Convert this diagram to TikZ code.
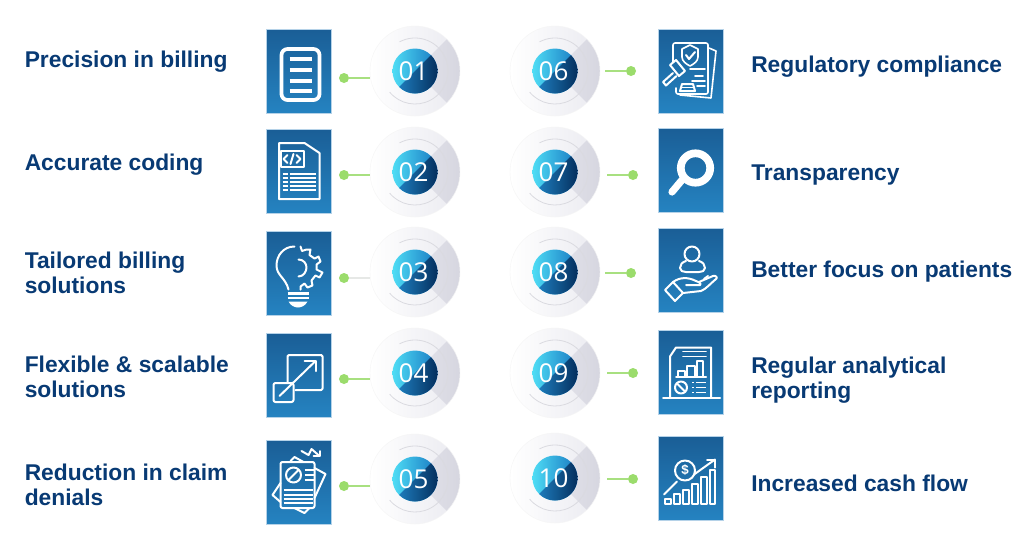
\documentclass[tikz,border=0pt]{standalone}
\usepackage{fontspec}
\setmainfont{Liberation Sans}
\newfontfamily\numfont{Open Sans}
\definecolor{navytext}{HTML}{083A74}
\definecolor{boxtop}{HTML}{1A5E96}
\definecolor{boxbot}{HTML}{2583C1}
\definecolor{boxedge}{HTML}{B5D2E8}
\definecolor{linkgreen}{HTML}{A8E080}
\definecolor{dotgreen}{HTML}{9BDC6C}
\definecolor{linkpale}{HTML}{E6E8E6}
\definecolor{discbase}{HTML}{EAEAF0}
\definecolor{wedgelow}{HTML}{F3F3F6}
\definecolor{wedgehigh}{HTML}{D6D6E0}
\definecolor{ringgrey}{HTML}{DADAE0}
\definecolor{innercyan}{HTML}{4FDDF5}
\definecolor{innerblue}{HTML}{1878C2}
\definecolor{innermid}{HTML}{2288CA}
\definecolor{innernavy}{HTML}{042F5E}
\tikzset{
  iconbox/.style={rectangle,minimum width=48.75pt,minimum height=63pt,inner sep=0pt,outer sep=0pt,
     top color=boxtop,bottom color=boxbot,draw=boxedge,line width=0.4pt},
  discnode/.style={circle,minimum size=67.5pt,inner sep=0pt,outer sep=0pt},
  numtext/.style={text=white,font=\numfont\fontsize{19.5}{20}\selectfont,inner sep=0pt},
  labeltext/.style={text=navytext,font=\bfseries\fontsize{17.1}{18.4}\selectfont,align=left,anchor=base west,inner sep=0pt},
  dotnode/.style={circle,fill=dotgreen,minimum size=7.5pt,inner sep=0pt},
  linkline/.style={draw=linkgreen,line width=1.2pt},
  paleline/.style={draw=linkpale,line width=1pt},
  iconline/.style={draw=white,line width=1.5pt,line cap=round,line join=round},
  iconthin/.style={draw=white,line width=1.2pt,line cap=round,line join=round},
  iconthick/.style={draw=white,line width=2.8pt,line cap=round,line join=round},
}
\newcommand{\discdraw}[4]{%
  \begin{scope}[shift={(#2,#3)}]
    \begin{scope}
      \clip (0,0) circle[radius=45];
      \shade[left color=white,right color=discbase] (-45,-45) rectangle (45,45);
      \begin{scope}
        \clip (0,0) -- (60,-60) -- (60,60) -- cycle;
        \shade[shading angle=135,left color=wedgelow,right color=wedgehigh] (-45,-45) rectangle (45,45);
      \end{scope}
    \end{scope}
    \draw[black!4!white,line width=0.3pt] (0,0) circle[radius=45];
    \draw[ringgrey,line width=0.6pt] (-118:33) arc[start angle=-118,end angle=140,radius=33];
    \begin{scope}
      \clip (0,0) circle[radius=22.5];
      \shade[left color=innercyan,right color=innerblue] (-22.5,-22.5) rectangle (22.5,22.5);
      \begin{scope}
        \clip (-30,30) -- (30,-30) -- (30,30) -- cycle;
        \shade[left color=innermid,right color=innernavy] (-22.5,-22.5) rectangle (22.5,22.5);
      \end{scope}
    \end{scope}
  \end{scope}
  \node[discnode] (#1) at (#2,#3) {};
  \node[numtext] (#1n) at (#2-1.5,#3+0.5) {#4};
}
\begin{document}
\begin{tikzpicture}[x=0.75pt,y=-0.75pt]
\useasboundingbox (0,0) rectangle (1024,547);
\fill[white] (0,0) rectangle (1024,547);

% boxes
\node[iconbox] (b1) at (299,71) {};
\node[iconbox] (b2) at (299,171) {};
\node[iconbox] (b3) at (299,273.5) {};
\node[iconbox] (b4) at (299,375) {};
\node[iconbox] (b5) at (299,482) {};
\node[iconbox] (b6) at (690.5,71) {};
\node[iconbox] (b7) at (690.5,170) {};
\node[iconbox] (b8) at (690.5,270) {};
\node[iconbox] (b9) at (690.5,372.5) {};
\node[iconbox] (b10) at (690.5,478.5) {};

% discs
\discdraw{d1}{415}{71}{01}
\discdraw{d2}{415}{172}{02}
\discdraw{d3}{415}{272}{03}
\discdraw{d4}{415}{373}{04}
\discdraw{d5}{415}{479}{05}
\discdraw{d6}{555}{71}{06}
\discdraw{d7}{555}{172}{07}
\discdraw{d8}{555}{272}{08}
\discdraw{d9}{555}{373}{09}
\discdraw{d10}{555}{478}{10}

% dots and connectors
\node[dotnode] (p1) at (344,78) {};
\node[dotnode] (p2) at (344,175) {};
\node[dotnode] (p3) at (344,278) {};
\node[dotnode] (p4) at (344,379) {};
\node[dotnode] (p5) at (344,486) {};
\node[dotnode] (p6) at (631,71) {};
\node[dotnode] (p7) at (633,175) {};
\node[dotnode] (p8) at (631,273) {};
\node[dotnode] (p9) at (633,373) {};
\node[dotnode] (p10) at (633,479) {};
\coordinate (s6) at (605,71);
\coordinate (s7) at (607,175);
\coordinate (s8) at (605,273);
\coordinate (s9) at (607,373);
\coordinate (s10) at (607,479);
\draw[linkline] (p1) -- (p1 -| d1.west);
\draw[linkline] (p2) -- (p2 -| d2.west);
\draw[paleline] (p3) -- (p3 -| d3.west);
\draw[linkline] (p4) -- (p4 -| d4.west);
\draw[linkline] (p5) -- (p5 -| d5.west);
\draw[linkline] (p6) -- (s6);
\draw[linkline] (p7) -- (s7);
\draw[linkline] (p8) -- (s8);
\draw[linkline] (p9) -- (s9);
\draw[linkline] (p10) -- (s10);

% labels (base of the last line is placed)
\node[labeltext] (t1) at (24.5,67) {Precision in billing};
\node[labeltext] (t2) at (24.5,170.5) {Accurate coding};
\node[labeltext] (t3) at (24.5,293) {Tailored billing\\solutions};
\node[labeltext] (t4) at (24.5,397) {Flexible \& scalable\\solutions};
\node[labeltext] (t5) at (24.5,505) {Reduction in claim\\denials};
\node[labeltext] (t6) at (751,72) {Regulatory compliance};
\node[labeltext] (t7) at (751,180) {Transparency};
\node[labeltext] (t8) at (751,277) {Better focus on patients};
\node[labeltext] (t9) at (751,398) {Regular analytical\\reporting};
\node[labeltext] (t10) at (751,491) {Increased cash flow};

% icon 1: document
\begin{scope}[shift={(b1.north west)}]
  \draw[iconthick,rounded corners=4.5pt] (15,20) rectangle (53,71);
  \foreach \yy in {30,41,52,62} \draw[iconthick,line width=2.5pt,line cap=butt] (23,\yy) -- (45,\yy);
\end{scope}

% icon 2: code file
\begin{scope}[shift={(b2.north west)}]
  \draw[iconline] (12.5,14) -- (38,14) -- (53,24) -- (53,70) -- (12.5,70) -- cycle;
  \draw[iconline] (14,22) rectangle (37,38);
  \draw[iconline] (21,26) -- (17,30) -- (21,34);
  \draw[iconline] (27,25) -- (24,35);
  \draw[iconline] (30,26) -- (34,30) -- (30,34);
  \foreach \yy in {45,49,53,57,61} {
    \draw[iconthin,line cap=butt] (16,\yy) -- (21,\yy);
    \draw[iconthin,line cap=butt] (23,\yy) -- (49,\yy);
  }
\end{scope}

% icon 3: bulb and gear
\begin{scope}[shift={(b3.north west)}]
  \draw[iconline] (28,15) .. controls (17,15) and (10,24) .. (10,34) .. controls (10,44) and (19,46) .. (22,58);
  \draw[iconline] (34,15) -- (35.5,19.5) -- (40,18) -- (44,18) -- (43,23.5) -- (48,27) -- (52,25) -- (54,30) -- (50,33) -- (50,38) -- (56,41) -- (53,46) -- (49,44) -- (45,49) -- (46,54) -- (41,56) -- (38,52) -- (34,55) -- (34,58);
  \draw[iconline] (32,28) .. controls (37,28) and (40,32) .. (40,36) .. controls (40,40) and (37,45) .. (32,45);
  \draw[iconthick,line width=1.8pt,line cap=butt] (21,62) -- (42,62);
  \draw[iconthick,line width=1.8pt,line cap=butt] (21,66.5) -- (42,66.5);
  \fill[white] (22,70) -- (41,70) .. controls (39,74) and (35,76) .. (31.5,76) .. controls (28,76) and (24,74) .. (22,70) -- cycle;
\end{scope}

% icon 4: resize
\begin{scope}[shift={(b4.north west)}]
  \draw[iconline,rounded corners=1pt] (21,49) -- (21,22) -- (56,22) -- (56,57) -- (29,57);
  \draw[iconline,rounded corners=1.5pt] (7,50) rectangle (27,69);
  \draw[iconline] (13,63) -- (49,28);
  \draw[iconline] (38,28) -- (49,28) -- (49,38);
\end{scope}

% icon 5: denied document
\begin{scope}[shift={(b5.north west)}]
  \draw[iconline] (35,11) -- (42,15) -- (45,9) -- (53,16);
  \draw[iconline] (47,16) -- (53,16) -- (53,11);
  \draw[iconline] (24,21) -- (28,17) -- (37,22);
  \draw[iconline] (48,28) -- (59,34) -- (48,58);
  \draw[iconline] (14,43) -- (6,55) -- (14,62);
  \draw[iconline] (28,68) -- (38,73) -- (43,68);
  \draw[iconline,rounded corners=1.5pt] (14,22) rectangle (48,68);
  \draw[iconline] (27,35) circle[radius=7.5];
  \draw[iconline] (22,40) -- (32,30);
  \foreach \yy in {30,35,40} \draw[iconthin,line cap=butt] (38,\yy) -- (47,\yy);
  \foreach \yy in {50,55,59,63} \draw[iconthin,line cap=butt] (17,\yy) -- (46,\yy);
\end{scope}

% icon 6: compliance
\begin{scope}[shift={(b6.north west)}]
  \draw[iconthin] (51,19) -- (58,22) -- (53,69) -- (22,66);
  \draw[iconthin,rounded corners=1.5pt] (15,33) -- (15,14) -- (50,14) -- (50,65) -- (18,65) -- (18,59);
  \draw[iconthin] (24,20) -- (32,16) -- (40,20) -- (40,28) .. controls (40,32) and (36,35) .. (32,37) .. controls (28,35) and (24,32) .. (24,28) -- cycle;
  \draw[iconline] (28,26) -- (31,30) -- (37,23);
  \draw[iconthin] (32,40) -- (47,40);
  \draw[iconthin] (37,47) -- (45,47);
  \draw[iconthin] (34,52) -- (47,52);
  \draw[iconthin] (39,57) -- (47,57);
  \draw[iconline] (12,36) -- (18,31) -- (27,42) -- (21,47) -- cycle;
  \draw[iconline] (15,44) -- (5,53) -- (8,56.5) -- (18.5,47);
  \draw[iconline] (22,62) -- (24,55) -- (35,55) -- (37,62) -- cycle;
  \draw[iconthin] (23,58.5) -- (36,58.5);
\end{scope}

% icon 7: magnifier
\begin{scope}[shift={(b7.north west)}]
  \draw[draw=white,line width=5.8pt] (37.5,40) circle[radius=14.7];
  \draw[draw=white,line width=5.4pt,line cap=round] (24,52) -- (14,64);
\end{scope}

% icon 8: person in hand
\begin{scope}[shift={(b8.north west)}]
  \draw[iconline] (34,26) circle[radius=7.5];
  \draw[iconline] (28,33) .. controls (24,34) and (22,37) .. (22,40) .. controls (22,43) and (25,44) .. (28,44) -- (41,44) .. controls (44,44) and (47,43) .. (47,40) .. controls (47,37) and (45,34) .. (41,33);
  \draw[iconline] (7,62) -- (15,54) -- (25,65) -- (17,73) -- cycle;
  \draw[iconline] (15,54) .. controls (22,49) and (30,49) .. (38,53) .. controls (41,54) and (44,56) .. (42,57) -- (28,57);
  \draw[iconline] (41,54) -- (55,48) .. controls (58,47) and (60,50) .. (58,51) .. controls (52,56) and (48,61) .. (43,63) -- (25,65);
  \draw[iconline] (46,51) -- (50,48);
\end{scope}

% icon 9: report
\begin{scope}[shift={(b9.north west)}]
  \draw[iconline] (12,67) -- (12,26) -- (18,17) -- (53,17) -- (53,67);
  \draw[iconline] (5,67) -- (62,67);
  \draw[iconthin] (25,21) -- (48,21);
  \draw[iconthin] (25,26) -- (48,26);
  \draw[iconline] (20,46) -- (20,40) -- (27,40) -- (27,46);
  \draw[iconline] (29,46) -- (29,35) -- (37,35) -- (37,46);
  \draw[iconline] (38.5,46) -- (38.5,30) -- (45,30) -- (45,46);
  \draw[iconline] (18,46) -- (48,46);
  \draw[iconline] (23,57) circle[radius=6];
  \draw[iconline] (19,53) -- (27,61);
  \foreach \yy in {52,57,62} {
    \draw[iconthin,line cap=butt] (34,\yy) -- (36,\yy);
    \draw[iconthin,line cap=butt] (38,\yy) -- (48,\yy);
  }
\end{scope}

% icon 10: cash flow
\begin{scope}[shift={(b10.north west)}]
  \draw[iconline] (7,62) rectangle (13,67);
  \draw[iconline] (16,57) rectangle (22,67);
  \draw[iconline] (25,53) rectangle (31,67);
  \draw[iconline] (34,47) rectangle (39.5,67);
  \draw[iconline] (43,40) rectangle (48.5,67);
  \draw[iconline] (51.5,33) rectangle (57,67);
  \draw[iconline] (27,34) circle[radius=10];
  \node[text=white,font=\bfseries\fontsize{10}{10}\selectfont,inner sep=0pt] (dollar) at (27,34) {\$};
  \draw[iconline] (6,58) -- (19,45);
  \draw[iconline] (36,38) -- (57,23);
  \draw[iconline] (49,23) -- (57,23) -- (57,31);
\end{scope}
\end{tikzpicture}
\end{document}
